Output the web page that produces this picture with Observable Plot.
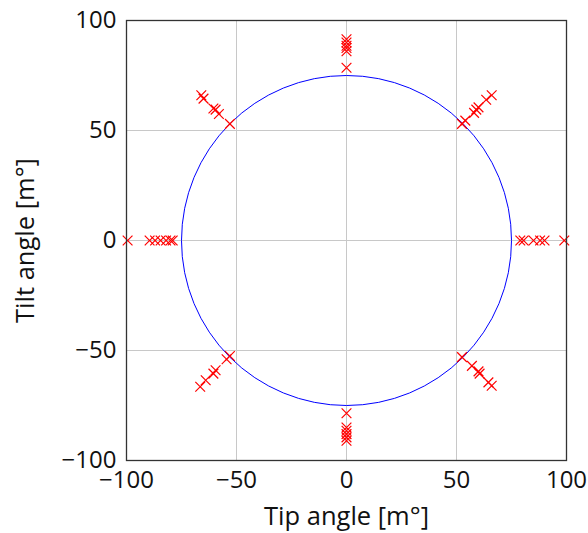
<!DOCTYPE html>
<html>
<head>
<meta charset="utf-8">
<script src="https://cdn.jsdelivr.net/npm/d3@7"></script>
<script src="https://cdn.jsdelivr.net/npm/@observablehq/plot@0.6"></script>
<style>
  html, body { margin: 0; padding: 0; background: #fff; }
  #chart svg { display: block; }
  #chart g[aria-label="x-axis label"], #chart g[aria-label="y-axis label"] { font-size: 25.5px; }
</style>
</head>
<body>
<div id="chart"></div>
<script>
// Measured tip (x) and tilt (y) angles, m°
const tipAngles = [
  0, 0, 0, 0, 0, 0,
  0, 0, 0, 0, 0, 0,
  -79, -80, -82, -84.5, -87, -89.5, -99.5,
  79, 80.5, 85, 88, 90, 99,
  -66, -65, -60.5, -59.5, -58, -53,
  52.5, 54, 58, 59, 60, 63.5, 66,
  -53, -54.5, -59.5, -60.5, -64, -66.5,
  52.5, 57, 60, 60.5, 64.5, 66
];
const tiltAngles = [
  78.5, 86, 87.5, 88.5, 90, 91.5,
  -78.5, -85, -86.5, -88, -89.5, -91,
  0, 0, 0, 0, 0, 0, 0,
  0, 0, 0, 0, 0, 0,
  66, 64.5, 60, 59.5, 57.5, 53,
  53, 54.5, 58, 59.5, 60.5, 64, 66,
  -52.5, -54, -59, -60.5, -63.5, -66.5,
  -53, -57, -59.5, -60.5, -64.5, -66
];
const limitRadius = [75];
const tickValues = [-100, -50, 0, 50, 100];
const gridValues = [-50, 0, 50];

const points = tipAngles.map((x, i) => ({x, y: tiltAngles[i]}));
const circle = limitRadius.map(r => ({x: 0, y: 0, r}));

const W = 588, H = 533;
const mL = 126, mR = 22, mT = 20, mB = 73;

const chart = Plot.plot({
  width: W,
  height: H,
  marginLeft: mL,
  marginRight: mR,
  marginTop: mT,
  marginBottom: mB,
  style: {fontFamily: "'Open Sans', sans-serif", fontSize: "24px", color: "#111", background: "#fff"},
  x: {domain: [-100, 100], ticks: tickValues, tickSize: 0, tickPadding: 10, label: "Tip angle [m°]", labelAnchor: "center", labelArrow: "none", labelOffset: 64},
  y: {domain: [-100, 100], ticks: tickValues, tickSize: 0, tickPadding: 10, label: "Tilt angle [m°]", labelAnchor: "center", labelArrow: "none", labelOffset: 111},
  r: {type: "linear", domain: [0, 100], range: [0, (W - mL - mR) / 2]},
  marks: [
    Plot.ruleX(gridValues, {stroke: "#c8c8c8", strokeWidth: 1}),
    Plot.ruleY(gridValues, {stroke: "#c8c8c8", strokeWidth: 1}),
    Plot.dot(circle, {x: "x", y: "y", r: "r", stroke: "blue", fill: "none", strokeWidth: 1}),
    Plot.dot(points, {x: "x", y: "y", symbol: "times", r: 4.5, stroke: "red", strokeWidth: 1.2}),
    Plot.frame({stroke: "#333", strokeWidth: 1.3})
  ]
});
document.getElementById("chart").appendChild(chart);
</script>
</body>
</html>
